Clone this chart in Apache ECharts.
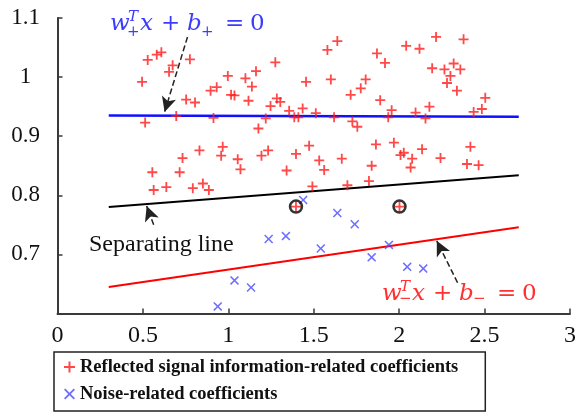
<!DOCTYPE html>
<html><head><meta charset="utf-8">
<script src="https://cdn.jsdelivr.net/npm/echarts@6/dist/echarts.min.js"></script>
<style>html,body{margin:0;padding:0;background:#fff}#c{width:579px;height:413px}</style>
</head><body><div id="c"></div><script>
// ---- data ----
const redPoints = [
 [0.528,1.029],[0.581,1.038],[0.608,1.042],[0.674,1.020],[0.653,1.009],[0.775,1.030],[0.495,0.992],
 [0.753,0.962],[0.805,0.957],[0.513,0.923],[0.695,0.934],[0.913,0.931],[0.997,1.002],[1.100,0.998],
 [1.162,1.010],[1.275,1.025],[0.896,0.977],[0.932,0.983],[1.016,0.970],[1.036,0.969],[1.118,0.960],
 [1.138,0.984],[1.247,0.951],[1.284,0.964],[1.304,0.958],[1.356,0.943],[1.386,0.932],[1.410,0.932],
 [1.435,0.947],[1.455,0.992],[1.219,0.930],[1.176,0.913],[1.512,0.939],[1.600,0.996],[1.580,1.046],
 [1.638,1.061],[1.619,0.932],[1.716,0.970],[1.775,0.981],[1.804,0.996],[1.726,0.925],[1.755,0.916],
 [1.870,1.040],[1.864,0.886],[1.917,1.024],[2.041,1.053],[2.119,1.048],[2.216,1.068],[2.377,1.064],
 [2.193,1.015],[2.265,1.013],[2.319,1.023],[2.358,1.013],[2.300,1.002],[2.280,0.990],[2.338,0.977],
 [1.889,0.961],[1.956,0.944],[1.936,0.932],[2.096,0.940],[2.177,0.950],[2.154,0.930],[2.436,0.941],
 [2.484,0.946],[2.504,0.965],[1.969,0.889],
 [0.831,0.876],[0.732,0.863],[0.967,0.882],[0.958,0.867],[1.055,0.861],[1.071,0.844],[1.194,0.867],
 [1.233,0.876],[1.396,0.870],[1.473,0.884],[1.664,0.862],[1.532,0.859],[1.341,0.842],[1.561,0.843],
 [1.839,0.850],[0.715,0.839],[0.555,0.839],[0.563,0.809],[0.637,0.814],[0.792,0.812],[0.851,0.820],
 [0.886,0.809],[1.492,0.815],[1.697,0.817],[1.823,0.824],[2.008,0.868],[2.027,0.872],[2.076,0.862],
 [2.067,0.847],[2.134,0.878],[2.242,0.863],[2.397,0.853],[2.465,0.851],[2.417,0.882],
 [1.396,0.781],[2.002,0.781]
];
const bluePoints = [
 [1.438,0.792],[1.638,0.770],[1.740,0.751],[1.236,0.726],[1.337,0.731],[1.541,0.710],[1.839,0.695],
 [1.940,0.716],[2.047,0.679],[2.141,0.676],[1.036,0.656],[1.133,0.644],[0.938,0.612]
];
const supportVectors = [[1.396,0.781],[2.002,0.781]];
const upperLine = [[0.3,0.935],[2.7,0.933]];
const sepLine = [[0.3,0.780],[2.7,0.834]];
const lowerLine = [[0.3,0.645],[2.7,0.746]];
const xTickLabels = ['0','0.5','1','1.5','2','2.5','3'];
const yTickLabels = ['','0.7','0.8','0.9','1','1.1'];
const seriesNames = ['Reflected signal information-related coefficients','Noise-related coefficients'];
// arrows: [tail, head] in data coordinates
const arrows = [
 [[0.761,1.068],[0.627,0.941]],
 [[0.563,0.750],[0.522,0.782]],
 [[2.342,0.652],[2.220,0.723]]
];

// ---- drawing ----
const FF = "'Liberation Serif','Times New Roman',serif";
const MF = "'DejaVu Serif',serif";
const plusPath = 'path://M4.1,0H5.9V4.1H10V5.9H5.9V10H4.1V5.9H0V4.1H4.1Z';
const xPath = 'path://M0,1.2L1.2,0L5,3.8L8.8,0L10,1.2L6.2,5L10,8.8L8.8,10L5,6.2L1.2,10L0,8.8L3.8,5Z';

function eq(ox, base, color, sign, subDy) {
  const big = 23, small = 15;
  const items = [
    ['w', 0, 0, big, true], ['T', 18, -10, small, true], [sign, 17, subDy, small, false],
    ['x', 30, 0, big, true], ['+', 51, 0, big, false], ['b', 77, 0, big, true],
    [sign, 91, subDy, small, false], ['=', 115, 0, big, false], ['0', 140, 0, big, false]
  ];
  return items.map(([t, dx, dy, s, it]) => ({
    type: 'text', x: ox + dx, y: base + dy - 0.32 * s, silent: true,
    style: { text: t, fill: color, font: (it ? 'italic ' : '') + s + 'px ' + MF,
             verticalAlign: 'middle', align: 'left' }
  }));
}

const chart = echarts.init(document.getElementById('c'), null, {renderer: 'canvas'});
const axisCommon = {
  type: 'value',
  axisLine: {show: true, lineStyle: {color: '#3a3a3a', width: 2}},
  axisTick: {show: true, inside: true, length: 5, lineStyle: {color: '#3a3a3a', width: 1.5}},
  splitLine: {show: false}
};
chart.setOption({
  animation: false,
  backgroundColor: '#fff',
  grid: {left: 57.5, right: 7.5, top: 18, bottom: 99.5},
  xAxis: Object.assign({}, axisCommon, {
    min: 0, max: 3, interval: 0.5,
    axisLabel: {margin: 10, fontSize: 24, color: '#111', fontFamily: FF,
      formatter: (v, i) => xTickLabels[i]}
  }),
  yAxis: Object.assign({}, axisCommon, {
    min: 0.6, max: 1.1, interval: 0.1,
    axisLabel: {margin: 32, align: 'center', fontSize: 23, color: '#111', fontFamily: FF,
      formatter: (v, i) => yTickLabels[i]}
  }),
  legend: {
    data: [{name: seriesNames[0], icon: plusPath}, {name: seriesNames[1], icon: xPath}],
    orient: 'vertical', left: 54, top: 352, padding: [5, 27, 7, 10], itemGap: 7,
    itemWidth: 11, itemHeight: 11, borderColor: '#222', borderWidth: 1.5,
    selectedMode: false,
    textStyle: {fontFamily: FF, fontWeight: 'bold', fontSize: 18.5, color: '#111', lineHeight: 20}
  },
  series: [
    {type: 'line', data: upperLine, symbol: 'none', lineStyle: {color: '#1010ff', width: 2.5}, silent: true, z: 1},
    {type: 'line', data: sepLine, symbol: 'none', lineStyle: {color: '#000', width: 2}, silent: true, z: 1},
    {type: 'line', data: lowerLine, symbol: 'none', lineStyle: {color: '#ff0000', width: 2}, silent: true, z: 1},
    {type: 'scatter', name: seriesNames[0], data: redPoints, symbol: plusPath, symbolSize: 10,
     itemStyle: {color: '#ff1a1a'}, z: 3},
    {type: 'scatter', name: seriesNames[1], data: bluePoints, symbol: xPath, symbolSize: 9,
     itemStyle: {color: '#4a4aff'}, z: 3},
    {type: 'scatter', data: supportVectors, symbol: 'circle', symbolSize: 12,
     itemStyle: {color: 'rgba(0,0,0,0)', borderColor: '#000', borderWidth: 2.5}, z: 4},
    {type: 'line', data: [], silent: true,
     markLine: {silent: true, animation: false, label: {show: false},
       lineStyle: {color: '#222', width: 1.5, type: 'dashed'},
       data: arrows.map(a => [{coord: a[0], symbol: 'none'},
                              {coord: a[1], symbol: 'arrow', symbolSize: [11, 15]}])}}
  ],
  graphic: [].concat(
    eq(110, 31.5, '#3c3cff', '+', 5),
    eq(382, 301.5, '#ff3030', '\u2212', 2),
    [{type: 'text', x: 89, y: 252 - 0.32 * 24, silent: true,
      style: {text: 'Separating line', fill: '#111', font: '24px ' + FF, verticalAlign: 'middle'}}]
  )
});
</script></body></html>
